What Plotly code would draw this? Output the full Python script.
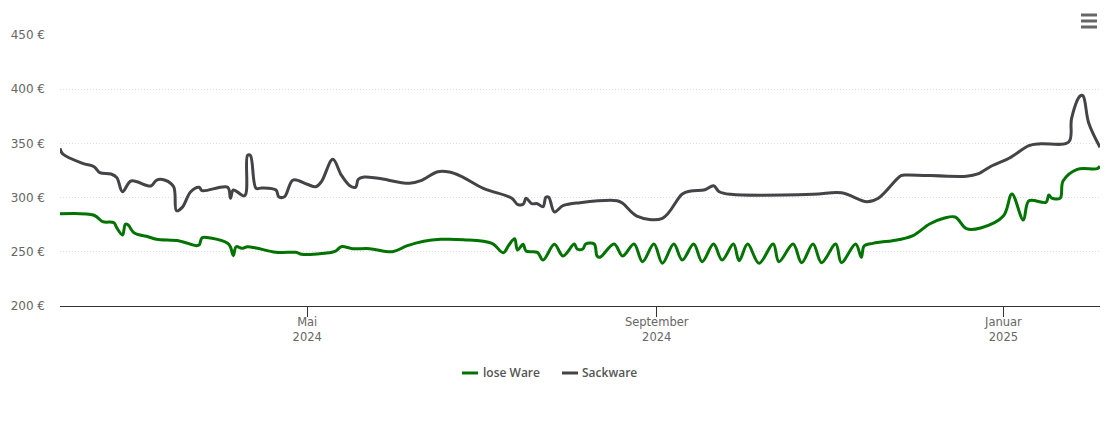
#!/usr/bin/env python3
import plotly.graph_objects as go

# values
lose_dates = [
    "2024-02-04", "2024-02-16", "2024-02-19", "2024-02-23", "2024-02-24", "2024-02-26", "2024-02-27", "2024-02-28",
    "2024-03-01", "2024-03-06", "2024-03-09", "2024-03-17", "2024-03-23", "2024-03-24", "2024-03-25", "2024-03-28",
    "2024-04-03", "2024-04-04", "2024-04-05", "2024-04-06", "2024-04-08", "2024-04-10", "2024-04-13", "2024-04-20",
    "2024-04-27", "2024-04-29", "2024-05-02", "2024-05-07", "2024-05-11", "2024-05-13", "2024-05-17", "2024-05-23",
    "2024-05-31", "2024-06-05", "2024-06-11", "2024-06-17", "2024-06-25", "2024-07-05", "2024-07-09", "2024-07-11",
    "2024-07-13", "2024-07-14", "2024-07-16", "2024-07-17", "2024-07-21", "2024-07-23", "2024-07-27", "2024-07-30",
    "2024-08-03", "2024-08-04", "2024-08-06", "2024-08-07", "2024-08-10", "2024-08-11", "2024-08-12", "2024-08-17",
    "2024-08-20", "2024-08-24", "2024-08-27", "2024-08-31", "2024-09-03", "2024-09-07", "2024-09-10", "2024-09-14",
    "2024-09-17", "2024-09-21", "2024-09-24", "2024-09-28", "2024-09-30", "2024-10-03", "2024-10-07", "2024-10-12",
    "2024-10-14", "2024-10-19", "2024-10-22", "2024-10-26", "2024-10-29", "2024-11-03", "2024-11-05", "2024-11-10",
    "2024-11-12", "2024-11-13", "2024-11-16", "2024-11-19", "2024-11-23", "2024-11-30", "2024-12-06", "2024-12-11",
    "2024-12-15", "2024-12-19", "2024-12-24", "2025-01-01", "2025-01-04", "2025-01-08", "2025-01-10", "2025-01-16",
    "2025-01-17", "2025-01-18", "2025-01-21", "2025-01-22", "2025-01-27", "2025-02-03", "2025-02-04",
]
lose_prices = [
    285.1, 283.7, 277.8, 276.8, 272.0, 265.5, 275.4, 274.7,
    267.6, 263.9, 261.5, 260.0, 255.6, 256.3, 263.0, 262.7,
    257.8, 254.4, 246.4, 254.7, 253.2, 254.7, 253.5, 249.5,
    249.5, 247.7, 247.5, 248.6, 250.7, 254.7, 252.9, 252.9,
    250.1, 255.4, 259.7, 261.5, 261.2, 257.8, 249.2, 256.3,
    262.1, 251.7, 256.9, 250.7, 249.5, 242.4, 257.0, 246.1,
    257.2, 252.6, 252.6, 257.2, 257.2, 246.1, 244.9, 257.2,
    246.1, 257.2, 240.9, 257.2, 239.4, 257.2, 242.4, 257.2,
    240.9, 257.2, 242.4, 257.2, 241.8, 257.2, 239.4, 257.2,
    240.9, 257.2, 239.9, 257.2, 240.0, 257.2, 240.0, 257.2,
    244.9, 255.4, 257.8, 259.0, 260.2, 264.6, 275.6, 280.9,
    282.1, 271.3, 272.0, 283.0, 303.3, 279.3, 297.1, 295.7,
    302.4, 299.6, 299.6, 315.3, 326.1, 326.7, 329.0,
]

sack_dates = [
    "2024-02-04", "2024-02-05", "2024-02-12", "2024-02-16", "2024-02-18", "2024-02-22", "2024-02-24", "2024-02-26",
    "2024-02-29", "2024-03-07", "2024-03-09", "2024-03-12", "2024-03-15", "2024-03-16", "2024-03-18", "2024-03-21",
    "2024-03-24", "2024-03-25", "2024-04-03", "2024-04-04", "2024-04-05", "2024-04-09", "2024-04-10", "2024-04-11",
    "2024-04-13", "2024-04-15", "2024-04-20", "2024-04-21", "2024-04-23", "2024-04-26", "2024-05-01", "2024-05-04",
    "2024-05-06", "2024-05-10", "2024-05-13", "2024-05-16", "2024-05-18", "2024-05-19", "2024-05-21", "2024-05-26",
    "2024-06-06", "2024-06-10", "2024-06-16", "2024-06-20", "2024-06-24", "2024-07-02", "2024-07-12", "2024-07-14",
    "2024-07-16", "2024-07-17", "2024-07-19", "2024-07-21", "2024-07-23", "2024-07-24", "2024-07-25", "2024-07-27",
    "2024-07-30", "2024-08-05", "2024-08-18", "2024-08-20", "2024-08-25", "2024-09-03", "2024-09-10", "2024-09-13",
    "2024-09-18", "2024-09-21", "2024-09-23", "2024-09-27", "2024-10-26", "2024-11-05", "2024-11-14", "2024-11-18",
    "2024-11-26", "2024-11-28", "2024-12-19", "2024-12-23", "2024-12-28", "2025-01-03", "2025-01-10", "2025-01-14",
    "2025-01-24", "2025-01-25", "2025-01-28", "2025-01-29", "2025-01-31", "2025-02-04",
]
sack_prices = [
    345.5, 340.2, 331.6, 328.5, 323.0, 321.8, 318.4, 305.4,
    315.3, 310.7, 316.2, 316.0, 310.0, 287.9, 291.0, 305.4,
    309.5, 306.4, 309.5, 299.4, 307.0, 301.7, 339.0, 339.0,
    308.6, 308.9, 307.0, 300.8, 300.8, 316.2, 312.3, 310.0,
    314.7, 335.3, 320.8, 311.0, 309.5, 316.9, 319.0, 317.8,
    313.2, 315.6, 323.9, 323.6, 319.9, 308.6, 299.4, 293.8,
    293.8, 299.4, 294.4, 294.4, 291.6, 300.3, 300.3, 286.7,
    292.5, 295.3, 297.1, 294.7, 283.0, 280.9, 303.3, 306.1,
    307.3, 311.0, 305.4, 303.0, 303.0, 304.5, 296.2, 299.4,
    320.2, 320.9, 319.7, 321.8, 329.4, 336.3, 347.9, 349.7,
    351.3, 373.1, 393.7, 394.0, 369.1, 346.4,
]

x_tick_dates = ["2024-05-01", "2024-09-01", "2025-01-01"]
x_tick_labels = ["Mai<br>2024", "September<br>2024", "Januar<br>2025"]
y_ticks = [200, 250, 300, 350, 400, 450]
y_tick_labels = ["200 €", "250 €", "300 €", "350 €", "400 €", "450 €"]

GREEN = "#007300"
GREY = "#434348"
TEXT = "#666666"

fig = go.Figure()
fig.add_trace(
    go.Scatter(
        x=lose_dates,
        y=lose_prices,
        name="lose Ware",
        mode="lines",
        line=dict(color=GREEN, width=3, shape="spline", smoothing=1.0),
    )
)
fig.add_trace(
    go.Scatter(
        x=sack_dates,
        y=sack_prices,
        name="Sackware",
        mode="lines",
        line=dict(color=GREY, width=3, shape="spline", smoothing=1.0),
    )
)

fig.update_xaxes(
    range=["2024-02-04", "2025-02-04"],
    tickvals=x_tick_dates,
    ticktext=x_tick_labels,
    ticks="outside",
    ticklen=10,
    tickcolor="#333333",
    showgrid=False,
    showline=True,
    linecolor="#333333",
    linewidth=1,
    zeroline=False,
    ticklabelstandoff=-5,
    tickfont=dict(family="DejaVu Sans", size=11.5, color=TEXT),
)
fig.update_yaxes(
    range=[200, 450],
    tickvals=y_ticks,
    ticktext=y_tick_labels,
    griddash="1px,2px",
    gridcolor="#dedede",
    gridwidth=1,
    zeroline=False,
    showline=False,
    ticklabelstandoff=14,
    tickfont=dict(family="DejaVu Sans", size=12, color=TEXT),
)

# menu icon in the top right corner
for y_paper in [1.0738, 1.0517, 1.0295]:
    fig.add_shape(
        type="line", xref="paper", yref="paper",
        x0=0.9817, x1=0.9971, y0=y_paper, y1=y_paper,
        line=dict(color=TEXT, width=3),
    )

# legend drawn by hand, plotly will not make the line samples shorter than 30px
legend_items = [("lose Ware", GREEN, 0.4162, 0.4355), ("Sackware", GREY, 0.5063, 0.5243)]
for name, color, x0, x_text in legend_items:
    fig.add_shape(
        type="line", xref="paper", yref="paper",
        x0=(x0 * 1110 - 60) / 1040, x1=(x0 * 1110 + 16 - 60) / 1040, y0=-0.2472, y1=-0.2472,
        line=dict(color=color, width=3),
    )
    fig.add_annotation(
        text=name, xref="paper", yref="paper",
        x=(x_text * 1110 - 60) / 1040, y=-0.2472,
        xanchor="left", yanchor="middle", showarrow=False, xshift=-2,
        font=dict(family="Open Sans", size=12, color="#555555", weight=600),
    )

fig.update_layout(
    width=1110,
    height=423,
    margin=dict(l=60, r=10, t=35, b=117, autoexpand=False),
    plot_bgcolor="white",
    paper_bgcolor="white",
    hovermode="x",
    showlegend=False,
)

fig.write_html(
    "out.html",
    config=dict(displayModeBar=False),
    post_script="document.body.style.margin = '0';",
)
